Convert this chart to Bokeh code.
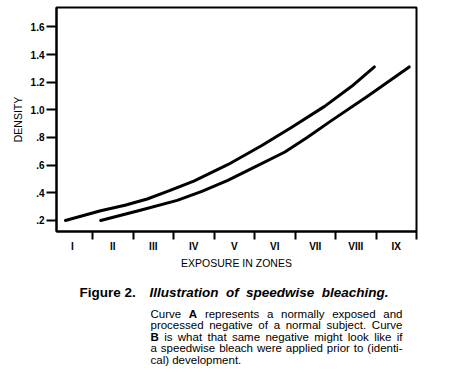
from bokeh.plotting import figure
from bokeh.models import FixedTicker, Range1d, LinearAxis, ColumnDataSource
from bokeh.layouts import column
from bokeh.core.properties import value
from bokeh.embed import file_html
from bokeh.resources import INLINE

# ---- data ----
zone_labels = ["I", "II", "III", "IV", "V", "VI", "VII", "VIII", "IX"]
zone_centers = [1, 2, 3, 4, 5, 6, 7, 8, 9]
zone_bounds = [1.5, 2.5, 3.5, 4.5, 5.5, 6.5, 7.5, 8.5, 9.5]
density_ticks = [0.2, 0.4, 0.6, 0.8, 1.0, 1.2, 1.4, 1.6]
density_tick_labels = [".2", ".4", ".6", ".8", "1.0", "1.2", "1.4", "1.6"]

curve_a_zone = [0.83, 1.7, 2.3, 2.85, 3.4, 4.0, 4.85, 5.67, 6.4, 7.23, 7.9, 8.46]
curve_a_density = [0.20, 0.27, 0.31, 0.355, 0.415, 0.485, 0.605, 0.74, 0.87, 1.025, 1.17, 1.31]
curve_b_zone = [1.7, 2.68, 3.59, 4.2, 4.84, 5.5, 6.25, 6.8, 7.39, 8.3, 9.32]
curve_b_density = [0.20, 0.274, 0.345, 0.41, 0.49, 0.585, 0.695, 0.80, 0.92, 1.10, 1.31]

title_number = "Figure  2."
title_words = ["Illustration", "of", "speedwise", "bleaching."]
# paragraph lines: (word, bold)
paragraph_lines = [
    [("Curve", False), ("A", True), ("represents", False), ("a", False), ("normally", False),
     ("exposed", False), ("and", False)],
    [("processed", False), ("negative", False), ("of", False), ("a", False), ("normal", False),
     ("subject.", False), ("Curve", False)],
    [("B", True), ("is", False), ("what", False), ("that", False), ("same", False), ("negative", False),
     ("might", False), ("look", False), ("like", False), ("if", False)],
    [("a", False), ("speedwise", False), ("bleach", False), ("were", False), ("applied", False),
     ("prior", False), ("to", False), ("(identi-", False)],
    [("cal)", False), ("development.", False)],
]

FONT = "Liberation Sans"

# Arial / Liberation Sans advance widths (1/1000 em)
REG = dict(zip("abcdefghijklmnopqrstuvwxyz",
               [556, 556, 500, 556, 556, 278, 556, 556, 222, 222, 500, 222, 833, 556, 556, 556, 556,
                333, 500, 278, 556, 500, 722, 500, 500, 500]))
REG.update({"C": 722, "A": 667, "B": 667, ".": 278, "(": 333, ")": 333, "-": 333, " ": 278})
BOLD = dict(zip("abcdefghijklmnopqrstuvwxyz",
                [556, 611, 556, 611, 556, 333, 611, 611, 278, 278, 556, 278, 889, 611, 611, 611, 611,
                 389, 556, 333, 611, 556, 778, 556, 556, 500]))
BOLD.update({"A": 722, "B": 722, "I": 278, "F": 611, ".": 278, " ": 278, "2": 556})


def text_w(s, bold, size):
    tbl = BOLD if bold else REG
    return sum(tbl.get(ch, 556) for ch in s) * size / 1000.0


LEFT, RIGHT = 56, 40

p = figure(width=456, height=280, output_backend="svg", toolbar_location=None,
           x_range=Range1d(0.61, 9.5), y_range=Range1d(0.12, 1.74),
           min_border_left=LEFT, min_border_right=RIGHT, min_border_top=7, min_border_bottom=49)
p.background_fill_color = "white"
p.border_fill_color = "white"
p.outline_line_color = "black"
p.outline_line_width = 2
p.grid.visible = False

# x axis: zone boundary ticks
xa = p.xaxis[0]
xa.ticker = FixedTicker(ticks=zone_bounds)
xa.major_label_overrides = {b: "" for b in zone_bounds}
xa.major_label_text_font_size = "0px"
xa.major_label_standoff = 0
xa.major_tick_out = 8
xa.major_tick_in = 0
xa.major_tick_line_width = 2
xa.major_tick_line_color = "black"
xa.minor_tick_line_color = None
xa.axis_line_width = 2
xa.axis_line_color = "black"

# x axis: zone names
xa2 = LinearAxis(ticker=FixedTicker(ticks=zone_centers))
xa2.major_label_overrides = {c: l for c, l in zip(zone_centers, zone_labels)}
xa2.axis_line_color = None
xa2.major_tick_line_color = None
xa2.minor_tick_line_color = None
xa2.major_tick_out = 0
xa2.major_tick_in = 0
xa2.major_label_standoff = 1
xa2.major_label_text_font = FONT
xa2.major_label_text_font_style = "bold"
xa2.major_label_text_font_size = "10px"
xa2.major_label_text_color = "black"
xa2.axis_label = "EXPOSURE IN ZONES"
xa2.axis_label_text_font = FONT
xa2.axis_label_text_font_style = "normal"
xa2.axis_label_text_font_size = "10.5px"
xa2.axis_label_text_color = "black"
xa2.axis_label_standoff = 2
p.add_layout(xa2, "below")

# y axis
ya = p.yaxis[0]
ya.ticker = FixedTicker(ticks=density_ticks)
ya.major_label_overrides = {t: l for t, l in zip(density_ticks, density_tick_labels)}
ya.major_tick_out = 10
ya.major_tick_in = 0
ya.major_tick_line_width = 2
ya.major_tick_line_color = "black"
ya.minor_tick_line_color = None
ya.axis_line_width = 2
ya.axis_line_color = "black"
ya.major_label_text_font = FONT
ya.major_label_text_font_style = "bold"
ya.major_label_text_font_size = "10px"
ya.major_label_text_color = "black"
ya.major_label_standoff = 2
ya.axis_label = "DENSITY"
ya.axis_label_text_font = FONT
ya.axis_label_text_font_style = "normal"
ya.axis_label_text_font_size = "10.5px"
ya.axis_label_text_color = "black"
ya.axis_label_standoff = 4

p.line(curve_a_zone, curve_a_density, line_color="black", line_width=3, line_cap="round", line_join="round")
p.line(curve_b_zone, curve_b_density, line_color="black", line_width=3, line_cap="round", line_join="round")

# ---- caption figure: frame aligned with chart frame, coordinates are page pixels ----
CAP_TOP = 280
c = figure(width=456, height=376 - CAP_TOP, output_backend="svg", toolbar_location=None,
           x_range=Range1d(LEFT, 456 - RIGHT), y_range=Range1d(376, CAP_TOP),
           x_axis_location=None, y_axis_location=None,
           min_border_left=LEFT, min_border_right=RIGHT, min_border_top=0, min_border_bottom=0)
c.grid.visible = False
c.outline_line_color = None
c.background_fill_color = "white"
c.border_fill_color = "white"

xs, ys, texts, styles, sizes = [], [], [], [], []

def add(x, y, t, style, size):
    xs.append(x); ys.append(y); texts.append(t); styles.append(style); sizes.append(f"{size}px")

TSIZE = 13.5
add(79, 292, title_number, "bold", TSIZE)
# justify title words between 149 and 388
tw = [text_w(w, True, TSIZE) for w in title_words]
gap = (388 - 149 - sum(tw)) / (len(title_words) - 1)
x = 149
for w, wd in zip(title_words, tw):
    add(x, 292, w, "bold italic", TSIZE)
    x += wd + gap

PSIZE = 11.5
line_y = [313, 324.5, 336, 347.5, 359]
PL, PR = 150, 402
for i, (words, ly) in enumerate(zip(paragraph_lines, line_y)):
    widths = [text_w(w, b, PSIZE) for w, b in words]
    justify = i < len(paragraph_lines) - 1
    g = (PR - PL - sum(widths)) / (len(words) - 1) if justify else text_w(" ", False, PSIZE)
    x = PL
    for (w, b), wd in zip(words, widths):
        add(x, ly, w, "bold" if b else "normal", PSIZE)
        x += wd + g

src = ColumnDataSource(dict(x=xs, y=ys, text=texts, style=styles, size=sizes))
c.text(x="x", y="y", text="text", source=src, text_font=value(FONT), text_font_style="style",
       text_font_size="size", text_color="black", text_baseline="middle", text_align="left")

layout = column(p, c, spacing=0)
open("out.html", "w").write(file_html(layout, INLINE))
